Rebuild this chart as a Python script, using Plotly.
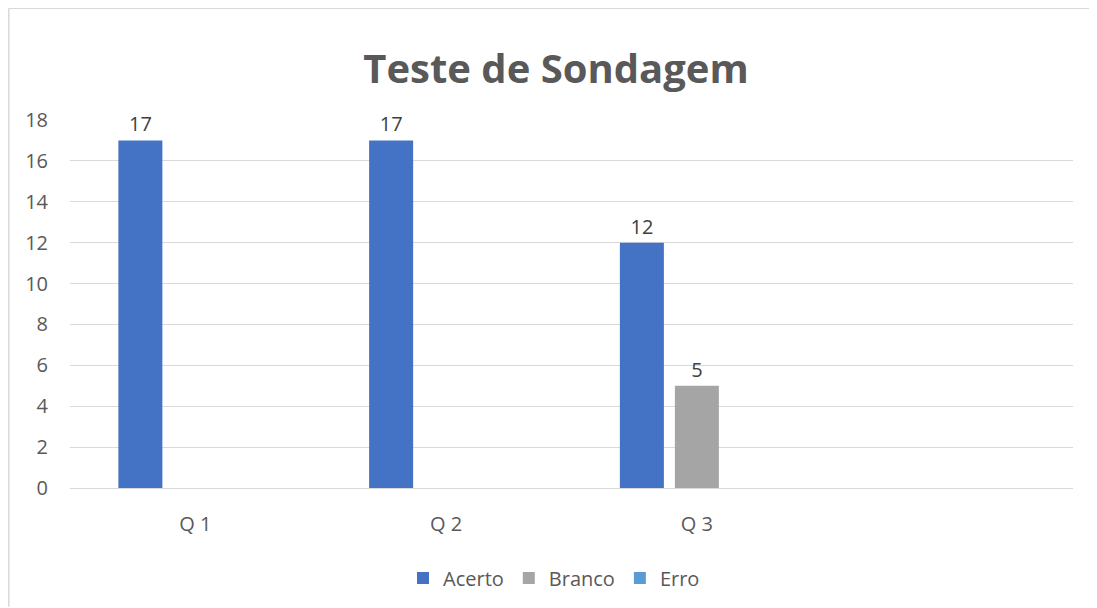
import plotly.graph_objects as go

categories = ["Q 1", "Q 2", "Q 3"]
acerto = [17, 17, 12]
branco = [None, None, 5]
erro = [None, None, None]
series_names = ["Acerto", "Branco", "Erro"]
colors = ["#4472C4", "#A5A5A5", "#5B9BD5"]
y_ticks = [0, 2, 4, 6, 8, 10, 12, 14, 16, 18]

# page has an 8px body margin; work in screen pixels and convert
OFF = 8
SW, SH = 1097, 608
W, H = SW - OFF, SH - OFF
L, R, T, B = 70 - OFF, SW - 1073, 120 - OFF, SH - 489
pw, ph = W - L - R, H - T - B

def px(x):
    return (x - OFF - L) / pw

def py(y):
    return (H - B - (y - OFF)) / ph

FONT = "Open Sans"

fig = go.Figure()
for name, vals, col in zip(series_names, [acerto, branco, erro], colors):
    fig.add_trace(go.Bar(
        x=categories, y=vals, name=name,
        marker=dict(color=col, line=dict(width=0)),
        text=[("" if v is None else str(v)) for v in vals],
        textposition="outside",
        textfont=dict(family=FONT, size=20, color="#404040"),
        cliponaxis=False,
    ))

fig.update_layout(
    width=W, height=H,
    margin=dict(l=L, r=R, t=T, b=B),
    paper_bgcolor="white", plot_bgcolor="white",
    barmode="group", bargap=0.342, bargroupgap=0.2,
    title=dict(text="<b>Teste de Sondagem</b>", x=px(556), xref="paper", xanchor="center",
               y=1 - (69 - OFF) / H, yref="container", yanchor="middle",
               font=dict(family=FONT, size=40, color="#595959")),
    legend=dict(orientation="h", x=px(554), xanchor="center", y=py(578), yanchor="middle",
                font=dict(family=FONT, size=20, color="#595959"),
                itemwidth=30, traceorder="normal"),
    showlegend=True,
    font=dict(family=FONT, color="#595959"),
)
fig.update_xaxes(type="category", range=[-0.5, 3.5], showgrid=False,
                 showline=True, linecolor="#D9D9D9", linewidth=1.3,
                 ticks="", tickfont=dict(family=FONT, size=20, color="#595959"),
                 ticklabelstandoff=18, fixedrange=True)
fig.update_yaxes(range=[0, 18], tickvals=y_ticks, showgrid=True, gridcolor="#D9D9D9",
                 gridwidth=1.3, zeroline=False, showline=False, ticks="",
                 tickfont=dict(family=FONT, size=20, color="#595959"),
                 ticklabelstandoff=21, fixedrange=True)

# chart border (top and left edges visible)
fig.add_shape(type="line", xref="paper", yref="paper", x0=px(8.8), x1=px(SW), y0=py(8), y1=py(8),
              line=dict(color="#D9D9D9", width=1.5))
fig.add_shape(type="line", xref="paper", yref="paper", x0=px(8.8), x1=px(8.8), y0=py(8), y1=py(SH),
              line=dict(color="#D9D9D9", width=1.5))

fig.write_html("out.html")
